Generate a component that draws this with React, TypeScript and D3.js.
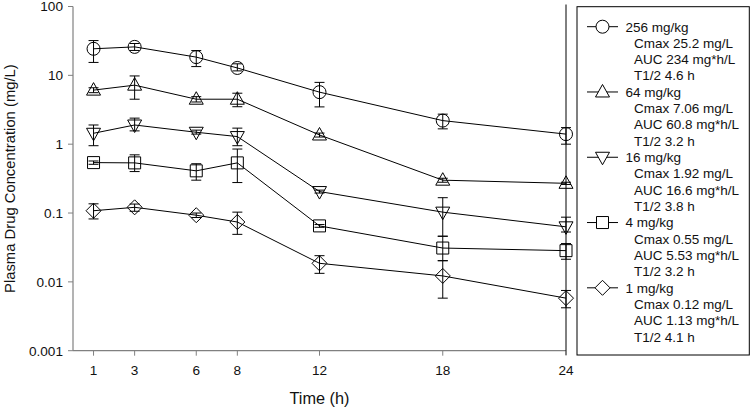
import { scaleLinear, scaleLog, line } from "d3";

const times = [1, 3, 6, 8, 12, 18, 24];
const xTicks = [1, 3, 6, 8, 12, 18, 24];
const yTicks = [0.001, 0.01, 0.1, 1, 10, 100];
const yTickLabels = ["0.001", "0.01", "0.1", "1", "10", "100"];

const doses = ["256 mg/kg", "64 mg/kg", "16 mg/kg", "4 mg/kg", "1 mg/kg"];
const shapes = ["circle", "triangleUp", "triangleDown", "square", "diamond"] as const;

const meanValues = [
  [24.3, 25.9, 18.4, 12.8, 5.7, 2.2, 1.4],
  [6.1, 7.2, 4.5, 4.5, 1.36, 0.3, 0.27],
  [1.44, 1.9, 1.49, 1.29, 0.205, 0.103, 0.063],
  [0.54, 0.535, 0.41, 0.535, 0.065, 0.031, 0.0284],
  [0.108, 0.121, 0.093, 0.074, 0.0186, 0.0122, 0.0058],
];
const upperValues = [
  [32, 29, 22.9, 14.7, 7.9, 2.73, 1.74],
  [6.6, 9.8, 4.9, 5.5, 1.45, 0.32, 0.28],
  [1.9, 2.39, 1.6, 1.71, 0.215, 0.167, 0.087],
  [0.57, 0.7, 0.52, 0.85, 0.068, 0.046, 0.036],
  [0.136, 0.135, 0.1, 0.103, 0.024, 0.0203, 0.0075],
];
const lowerValues = [
  [15.4, 23, 13.4, 11.6, 3.48, 1.67, 1.0],
  [5.6, 4.5, 4.1, 3.5, 1.27, 0.28, 0.26],
  [0.95, 1.56, 1.4, 0.95, 0.195, 0.046, 0.053],
  [0.51, 0.4, 0.3, 0.277, 0.062, 0.0203, 0.0213],
  [0.082, 0.106, 0.086, 0.049, 0.0133, 0.0058, 0.0042],
];
const legendDetails = [
  ["Cmax 25.2 mg/L", "AUC 234 mg*h/L", "T1/2 4.6 h"],
  ["Cmax 7.06 mg/L", "AUC 60.8 mg*h/L", "T1/2 3.2 h"],
  ["Cmax 1.92 mg/L", "AUC 16.6 mg*h/L", "T1/2 3.8 h"],
  ["Cmax 0.55 mg/L", "AUC 5.53 mg*h/L", "T1/2 3.2 h"],
  ["Cmax 0.12 mg/L", "AUC 1.13 mg*h/L", "T1/2 4.1 h"],
];

const font = "'Liberation Sans', Arial, Helvetica, sans-serif";

function markerPath(shape: (typeof shapes)[number]) {
  switch (shape) {
    case "circle":
      return "M-6.5,0A6.5,6.5 0 1,0 6.5,0A6.5,6.5 0 1,0 -6.5,0Z";
    case "triangleUp":
      return "M0,-7.5L7,5L-7,5Z";
    case "triangleDown":
      return "M0,7.5L7,-5L-7,-5Z";
    case "square":
      return "M-6,-6H6V6H-6Z";
    case "diamond":
      return "M0,-7.5L7.5,0L0,7.5L-7.5,0Z";
  }
}

export default function App() {
  const width = 750;
  const height = 408;
  const margin = { top: 6.5, left: 73, right: 566, bottom: 350.7 };

  const x = scaleLinear().domain([0, 24]).range([margin.left, margin.right]);
  const y = scaleLog().domain([0.001, 100]).range([margin.bottom, margin.top]);

  const path = line<number>()
    .x((_, i) => x(times[i]))
    .y((d) => y(d));

  const legend = { x0: 577, y0: 6.7, x1: 749.3, y1: 355, firstRow: 26.7, rowStep: 16.32 };
  const axisColor = "#808080";

  return (
    <svg
      width={width}
      height={height}
      style={{ position: "absolute", left: 0, top: 0, background: "#fff" }}
      fontFamily={font}
    >
      {/* axes */}
      <line x1={margin.left} x2={margin.left} y1={margin.top} y2={margin.bottom} stroke={axisColor} strokeWidth={1.2} />
      <line x1={margin.left} x2={margin.right} y1={margin.bottom} y2={margin.bottom} stroke={axisColor} strokeWidth={1.2} />
      <line x1={margin.right} x2={margin.right} y1={4.5} y2={355} stroke="#000" strokeWidth={1} />

      {yTicks.map((t, i) => (
        <g key={`y${t}`}>
          <line x1={margin.left - 5} x2={margin.left} y1={y(t)} y2={y(t)} stroke={axisColor} strokeWidth={1} />
          <text x={margin.left - 10} y={y(t) + 4.8} textAnchor="end" fontSize={13.6} fill="#111">
            {yTickLabels[i]}
          </text>
        </g>
      ))}
      {xTicks.map((t) => (
        <g key={`x${t}`}>
          <line x1={x(t)} x2={x(t)} y1={margin.bottom} y2={margin.bottom + 5} stroke={axisColor} strokeWidth={1} />
          <text x={x(t)} y={375} textAnchor="middle" fontSize={13.6} fill="#111">
            {t}
          </text>
        </g>
      ))}

      <text x={(margin.left + margin.right) / 2} y={404} textAnchor="middle" fontSize={16.3} fill="#111">
        Time (h)
      </text>
      <text
        transform={`translate(15,${(margin.top + margin.bottom) / 2}) rotate(-90)`}
        textAnchor="middle"
        fontSize={14.8}
        fill="#111"
      >
        Plasma Drug Concentration (mg/L)
      </text>

      {/* series */}
      {meanValues.map((series, s) => (
        <g key={doses[s]}>
          <path d={path(series) ?? ""} fill="none" stroke="#000" strokeWidth={1} />
          {series.map((v, i) => {
            const cx = x(times[i]);
            const top = y(upperValues[s][i]);
            const bot = y(lowerValues[s][i]);
            return (
              <g key={i}>
                <line x1={cx} x2={cx} y1={top} y2={bot} stroke="#000" strokeWidth={1} />
                <line x1={cx - 5} x2={cx + 5} y1={top} y2={top} stroke="#000" strokeWidth={1} />
                <line x1={cx - 5} x2={cx + 5} y1={bot} y2={bot} stroke="#000" strokeWidth={1} />
                <path
                  d={markerPath(shapes[s])}
                  transform={`translate(${cx},${y(v)})`}
                  fill="none"
                  stroke="#000"
                  strokeWidth={1}
                />
              </g>
            );
          })}
        </g>
      ))}

      {/* legend */}
      <rect
        x={legend.x0}
        y={legend.y0}
        width={legend.x1 - legend.x0}
        height={legend.y1 - legend.y0}
        fill="#fff"
        stroke="#000"
        strokeWidth={1}
      />
      {doses.map((dose, s) => {
        const rowY = legend.firstRow + s * 4 * legend.rowStep;
        return (
          <g key={`leg${dose}`}>
            <line x1={587} x2={618} y1={rowY} y2={rowY} stroke="#000" strokeWidth={1} />
            <path d={markerPath(shapes[s])} transform={`translate(602.5,${rowY})`} fill="#fff" stroke="#000" strokeWidth={1} />
            <text x={625.5} y={rowY + 4.8} fontSize={13.5} fill="#111">
              {dose}
            </text>
            {legendDetails[s].map((txt, k) => (
              <text key={txt} x={634} y={rowY + (k + 1) * legend.rowStep + 4.8} fontSize={13.5} fill="#111">
                {txt}
              </text>
            ))}
          </g>
        );
      })}
    </svg>
  );
}
